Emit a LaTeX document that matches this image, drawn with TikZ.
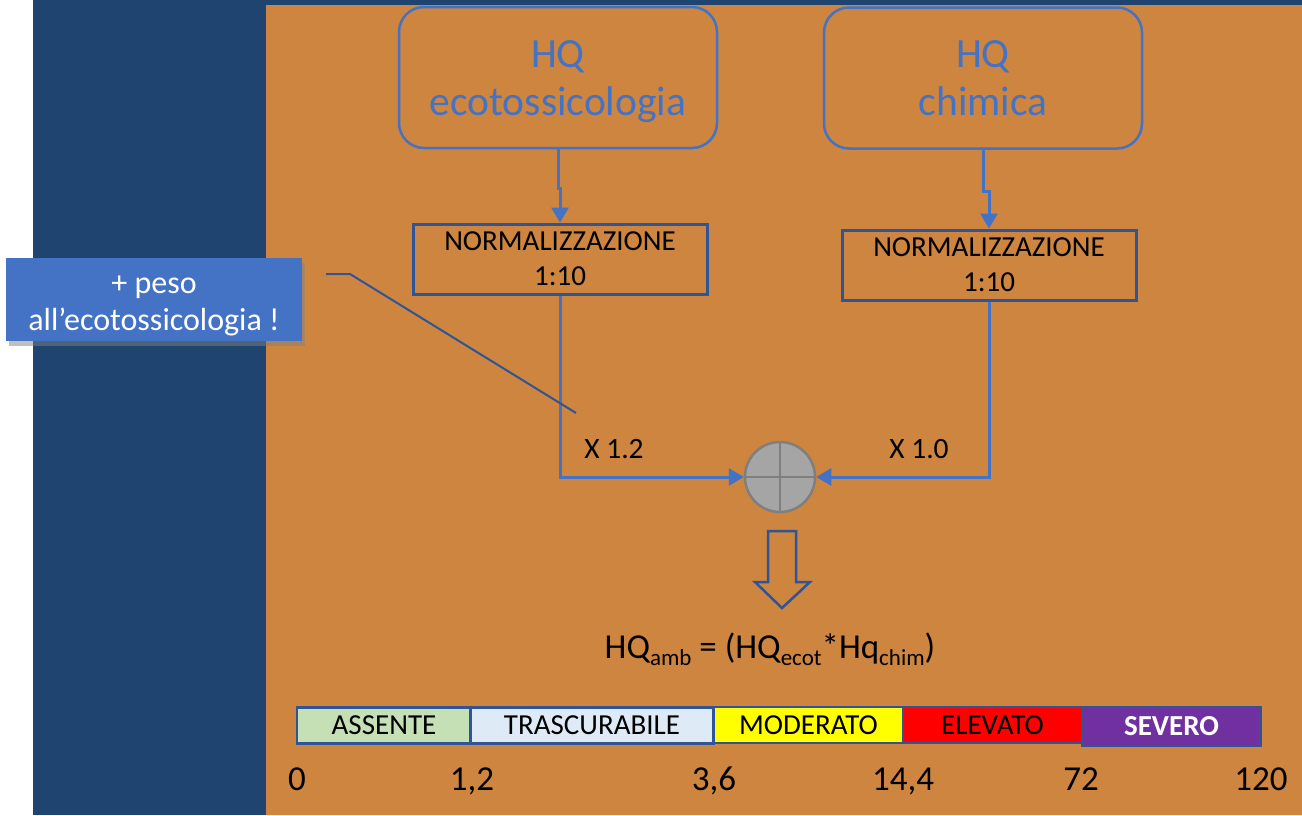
\documentclass[tikz,border=0pt]{standalone}
\usepackage{fontspec}
\setmainfont{Carlito}
\usetikzlibrary{arrows.meta,shadows,calc}
\definecolor{darkbg}{HTML}{1F4470}
\definecolor{orangebg}{HTML}{CD853F}
\definecolor{mblue}{HTML}{4472C4}
\definecolor{dblue}{HTML}{2F5597}
\definecolor{sumgray}{HTML}{A5A5A5}
\definecolor{sumedge}{HTML}{7F7F7F}
\definecolor{segA}{HTML}{C5E0B4}
\definecolor{segB}{HTML}{DEEBF7}
\definecolor{segC}{HTML}{FFFF00}
\definecolor{segD}{HTML}{FF0000}
\definecolor{segE}{HTML}{7030A0}
\newcommand\mysub[1]{\raisebox{-0.2em}{\fontsize{23}{23}\selectfont #1}}
\tikzset{
  topbox/.style={draw=mblue, line width=2.5pt, rounded corners=25pt, minimum width=318pt, minimum height=141pt,
    align=center, text=mblue, font=\fontsize{41.5}{48}\selectfont, inner sep=0pt, text height=75pt, text depth=0pt},
  normbox/.style={draw=dblue, line width=3pt, minimum width=294pt, minimum height=70pt,
    align=center, text=black, font=\fontsize{29}{35}\selectfont, inner sep=0pt, text height=52pt, text depth=0pt},
  conn/.style={draw=mblue, line width=3pt, -{Triangle[length=15pt,width=17pt]}},
  lbl/.style={font=\fontsize{29.5}{34}\selectfont, text=black, inner sep=0pt},
  seg/.style={draw=dblue, line width=2.5pt, minimum height=36pt, inner sep=0pt, font=\fontsize{29}{34}\selectfont, text=black},
  num/.style={font=\fontsize{35}{40}\selectfont, text=black, anchor=base, inner sep=0pt},
  callout/.style={fill=mblue, minimum width=296pt, minimum height=83pt, align=center, text=white,
    font=\fontsize{32}{37}\selectfont, inner sep=0pt, text height=61pt, text depth=0pt,
    drop shadow={shadow xshift=3pt, shadow yshift=-5pt, opacity=0.5}},
}
\begin{document}
\begin{tikzpicture}[x=1pt,y=-1pt]
\useasboundingbox (0,0) rectangle (1302,815);
\fill[white] (0,0) rectangle (1302,815);
\fill[darkbg] (33,0) rectangle (1302,815);
\fill[orangebg] (266,5) rectangle (1302,815);

% top boxes
\node[topbox] (tL) at (558,77.5) {HQ\\ecotossicologia};
\node[topbox] (tR) at (983,78) {HQ\\chimica};

% normalization boxes
\node[normbox] (nL) at (560,259) {NORMALIZZAZIONE\\1:10};
\node[normbox] (nR) at (989,265) {NORMALIZZAZIONE\\1:10};

\draw[conn] (tL.south) -- ++(0,39) -| (nL.north);
\draw[conn] (tR.south) -- ++(0,42) -| (nR.north);

% sum
\node[circle, fill=sumgray, draw=sumedge, line width=2.5pt, minimum size=70pt, inner sep=0pt] (sum) at (780,477) {};
\draw[sumedge, line width=2.5pt] (sum.north) -- (sum.south) (sum.west) -- (sum.east);

\draw[conn] (nL.south) |- (sum.west);
\draw[conn] (nR.south) |- (sum.east);

\node[lbl] (wL) at (614,449) {X 1.2};
\node[lbl] (wR) at (919,449) {X 1.0};

% callout
\node[callout] (co) at (154,299.5) {+ peso\\all’ecotossicologia !};
\coordinate (c1) at (326,274);
\coordinate (c2) at (350,274);
\coordinate (c3) at (576,413);
\draw[dblue, line width=2pt] (c1) -- (c2) -- (c3);

% block arrow
\draw[dblue, line width=2.5pt, line join=miter]
  (768,531) -- (796,531) -- (796,582) -- (810,582) -- (782,608) -- (755,582) -- (768,582) -- cycle;

% formula
\node[font=\fontsize{35}{40}\selectfont, anchor=base, inner sep=0pt] (frm) at (770,658)
  {HQ\mysub{amb} = (HQ\mysub{ecot}*Hq\mysub{chim})};

% scale
\node[seg, fill=segA, minimum width=174pt] (sA) at (384,725.5) {ASSENTE};
\node[seg, fill=segB, minimum width=243pt] (sB) at (592,725.5) {TRASCURABILE};
\node[seg, fill=segC, minimum width=189pt] (sC) at (808.5,725) {MODERATO};
\node[seg, fill=segD, minimum width=179pt] (sD) at (992.5,725) {ELEVATO};
\node[seg, fill=segE, minimum width=179pt, minimum height=39pt, text=white, font=\fontsize{29}{34}\selectfont\bfseries] (sE) at (1171.5,726.5) {SEVERO};

\node[num] (n0) at (297,790) {0};
\node[num] (n1) at (472,790) {1,2};
\node[num] (n2) at (714,790) {3,6};
\node[num] (n3) at (903,790) {14,4};
\node[num] (n4) at (1081,790) {72};
\node[num] (n5) at (1261,790) {120};
\end{tikzpicture}
\end{document}
